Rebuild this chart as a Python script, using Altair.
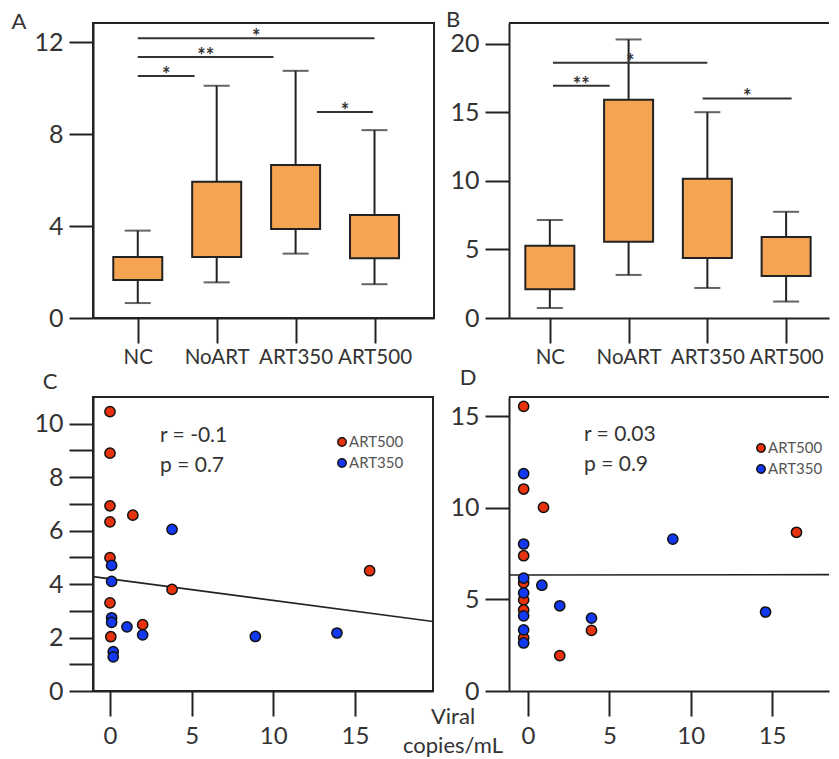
import altair as alt
import pandas as pd

FONT = "Lato"
INK = "#222222"
ORANGE = "#F5A552"
RED = "#E8320E"
BLUE = "#1238F0"

groups = ["NC", "NoART", "ART350", "ART500"]

# Panel A box statistics
a_low = [0.65, 1.55, 2.8, 1.47]
a_q1 = [1.65, 2.65, 3.87, 2.6]
a_q3 = [2.65, 5.93, 6.65, 4.48]
a_high = [3.8, 10.1, 10.75, 8.17]
# Panel B box statistics
b_low = [0.73, 3.14, 2.19, 1.2]
b_q1 = [2.1, 5.56, 4.38, 3.07]
b_q3 = [5.26, 15.9, 10.14, 5.9]
b_high = [7.15, 20.3, 15.0, 7.74]

# significance brackets (group-index start / end, height, label)
a_sig_start = [0.0, 0.0, 0.0, 2.27]
a_sig_end = [0.72, 1.72, 3.0, 2.98]
a_sig_y = [10.52, 11.35, 12.17, 8.96]
a_sig_label = ["*", "**", "*", "*"]

b_sig_start = [0.04, 0.04, 1.94]
b_sig_end = [0.76, 2.0, 3.07]
b_sig_y = [16.93, 18.6, 16.0]
b_sig_label = ["**", "*", "*"]

series = ["ART500", "ART350"]
series_colors = [RED, BLUE]

# Panel C scatter
c_red_x = [0.0, 0.0, 0.0, 0.0, 1.4, 0.0, 3.8, 15.9, 0.0, 2.0, 0.05]
c_red_y = [10.45, 8.9, 6.93, 6.33, 6.58, 4.99, 3.8, 4.5, 3.3, 2.48, 2.03]
c_blue_x = [0.1, 0.1, 0.1, 0.1, 1.04, 2.0, 3.8, 8.9, 13.9, 0.2, 0.2]
c_blue_y = [4.7, 4.1, 2.74, 2.57, 2.4, 2.1, 6.05, 2.04, 2.17, 1.47, 1.28]
c_line_x = [-1.04, 19.8]
c_line_y = [4.28, 2.6]
c_r = "r = -0.1"
c_p = "p = 0.7"

# Panel D scatter
d_red_x = [-0.27, -0.27, 0.95, -0.27, -0.27, -0.27, -0.27, -0.27, 1.95, 3.9, 16.5]
d_red_y = [15.53, 11.02, 10.02, 7.38, 5.9, 4.97, 4.42, 2.9, 1.93, 3.31, 8.66]
d_blue_x = [-0.27, -0.27, -0.27, -0.27, -0.27, -0.27, -0.27, 0.85, 1.95, 3.9, 8.9, 14.6]
d_blue_y = [11.86, 8.02, 6.16, 5.35, 4.1, 3.33, 2.62, 5.77, 4.65, 3.98, 8.29, 4.31]
d_line_x = [-1.2, 19.0]
d_line_y = [6.33, 6.35]
d_r = "r = 0.03"
d_p = "p = 0.9"

x_title = "Viral\ncopies/mL"


def yaxis(values, label_expr=None):
    kw = dict(values=values, title=None, grid=False, tickSize=24, tickWidth=2,
              tickColor=INK, domainColor=INK, domainWidth=2, labelFontSize=25,
              labelFont=FONT, labelColor="#333333", labelPadding=6,
              labelOverlap=False, labelBound=False, labelFlush=False)
    if label_expr:
        kw["labelExpr"] = label_expr
    return alt.Axis(**kw)


def xaxis(values, label_expr=None, size=22, pad=4):
    kw = dict(values=values, title=None, grid=False, tickSize=25, tickWidth=2,
              tickColor=INK, domainColor=INK, domainWidth=2, labelFontSize=size,
              labelFont=FONT, labelColor="#333333", labelPadding=pad, labelFlush=False,
              labelOverlap=False, labelBound=False)
    if label_expr:
        kw["labelExpr"] = label_expr
    return alt.Axis(**kw)


def letter_layer(letter, dx, dy):
    return alt.Chart(pd.DataFrame({"t": [letter]})).mark_text(
        font=FONT, fontSize=22, color="#333333", align="center", baseline="middle"
    ).encode(x=alt.value(dx), y=alt.value(dy), text="t:N")


def box_panel(low, q1, q3, high, sx, ex, sy, lab, ydom, yvals, xdom, width, height,
              letter, ldx, ldy, right_frame):
    cat_expr = "[" + ",".join("'%s'" % g for g in groups) + "][datum.value]"
    xs = alt.Scale(domain=xdom, nice=False, zero=False)
    ys = alt.Scale(domain=ydom, nice=False, zero=False)
    xa = xaxis(list(range(len(groups))), cat_expr, size=20.5, pad=4)
    ya = yaxis(yvals)

    def X(f):
        return alt.X(f, type="quantitative", scale=xs, axis=xa)

    def Y(f):
        return alt.Y(f, type="quantitative", scale=ys, axis=ya)

    df = pd.DataFrame({"g": list(range(len(groups))), "name": groups,
                       "low": low, "q1": q1, "q3": q3, "high": high})
    base = alt.Chart(df)
    wl = base.mark_rule(color=INK, strokeWidth=2).encode(x=X("g"), y=Y("low"), y2="q1")
    wh = base.mark_rule(color=INK, strokeWidth=2).encode(x=X("g"), y=Y("q3"), y2="high")
    cl = base.mark_tick(orient="horizontal", size=26, thickness=2, color=INK).encode(x=X("g"), y=Y("low"))
    ch = base.mark_tick(orient="horizontal", size=26, thickness=2, color=INK).encode(x=X("g"), y=Y("high"))
    box = base.mark_bar(size=49, fill=ORANGE, stroke=INK, strokeWidth=2, opacity=1).encode(
        x=X("g"), y=Y("q1"), y2="q3")

    sdf = pd.DataFrame({"s": sx, "e": ex, "y": sy, "lab": lab})
    sb = alt.Chart(sdf)
    rules = sb.mark_rule(color="#333333", strokeWidth=2).encode(x=X("s"), x2="e", y=Y("y"))
    stars = sb.transform_calculate(mid="(datum.s + datum.e) / 2").mark_text(
        font=FONT, fontSize=20, fontWeight="bold", color="#333333", align="center",
        baseline="alphabetic", dy=6
    ).encode(x=X("mid"), y=Y("y"), text="lab:N")

    layers = [wl, wh, cl, ch, box, rules, stars, letter_layer(letter, ldx, ldy)]
    if not right_frame:
        top = alt.Chart(pd.DataFrame({"t": [0]})).mark_rule(color=INK, strokeWidth=2).encode(
            x=alt.value(0), x2=alt.value(width), y=alt.value(0))
        layers.append(top)
    view = alt.ViewBackground(stroke=INK if right_frame else "transparent", strokeWidth=2)
    return alt.layer(*layers).properties(width=width, height=height, view=view)


def scatter_panel(rx, ry, bx, by, lx, ly, ydom, yvals, ylab_expr, xdom, width, height,
                  rtxt, ptxt, letter, ldx, ldy, right_frame, rp_pos, leg_pos, extra_title):
    xs = alt.Scale(domain=xdom, nice=False, zero=False)
    ys = alt.Scale(domain=ydom, nice=False, zero=False)
    xa = xaxis([0, 5, 10, 15], size=24, pad=8)
    ya = yaxis(yvals, ylab_expr)

    def X(f):
        return alt.X(f, type="quantitative", scale=xs, axis=xa)

    def Y(f):
        return alt.Y(f, type="quantitative", scale=ys, axis=ya)

    pts = pd.DataFrame({
        "x": rx + bx, "y": ry + by,
        "series": [series[0]] * len(rx) + [series[1]] * len(bx)})
    dots = alt.Chart(pts).mark_circle(size=105, stroke="#111111", strokeWidth=1.5, opacity=1).encode(
        x=X("x"), y=Y("y"),
        color=alt.Color("series:N", scale=alt.Scale(domain=series, range=series_colors), legend=None))
    line = alt.Chart(pd.DataFrame({"x": lx, "y": ly})).mark_line(
        color=INK, strokeWidth=1.6, clip=True).encode(x=X("x"), y=Y("y"))

    layers = [line, dots]
    # r / p annotation
    for i, t in enumerate([rtxt, ptxt]):
        layers.append(alt.Chart(pd.DataFrame({"t": [t]})).mark_text(
            font=FONT, fontSize=21, color="#333333", align="left", baseline="middle"
        ).encode(x=alt.value(rp_pos[0]), y=alt.value(rp_pos[1] + 30 * i), text="t:N"))
    # manual legend
    for i, (name, col) in enumerate(zip(series, series_colors)):
        d = pd.DataFrame({"t": [name]})
        layers.append(alt.Chart(d).mark_point(
            shape="circle", filled=True, size=70, fill=col, stroke="#111111", strokeWidth=1.5, opacity=1
        ).encode(x=alt.value(leg_pos[0]), y=alt.value(leg_pos[1] + 21 * i)))
        layers.append(alt.Chart(d).mark_text(
            font=FONT, fontSize=15, color="#555555", align="left", baseline="middle"
        ).encode(x=alt.value(leg_pos[0] + 7), y=alt.value(leg_pos[1] + 21 * i), text="t:N"))
    layers.append(letter_layer(letter, ldx, ldy))
    if extra_title:
        layers.append(alt.Chart(pd.DataFrame({"t": [extra_title]})).mark_text(
            font=FONT, fontSize=22, color="#333333", align="center", baseline="middle",
            lineBreak="\n", lineHeight=29
        ).encode(x=alt.value(width + 20), y=alt.value(height + 26), text="t:N"))
    if not right_frame:
        top = alt.Chart(pd.DataFrame({"t": [0]})).mark_rule(color=INK, strokeWidth=2).encode(
            x=alt.value(0), x2=alt.value(width), y=alt.value(0))
        layers.append(top)
    view = alt.ViewBackground(stroke=INK if right_frame else "transparent", strokeWidth=2)
    return alt.layer(*layers).properties(width=width, height=height, view=view)


pA = box_panel(a_low, a_q1, a_q3, a_high, a_sig_start, a_sig_end, a_sig_y, a_sig_label,
               [0, 12.83], [0, 4, 8, 12], [-0.504, -0.504 + 341 / 81.3], 341, 295,
               "A", -74, -1, True)
pB = box_panel(b_low, b_q1, b_q3, b_high, b_sig_start, b_sig_end, b_sig_y, b_sig_label,
               [0, 21.5], [0, 5, 10, 15, 20], [-0.455, -0.455 + 320 / 81.3], 320, 295,
               "B", -56, -3, False)
pC = scatter_panel(c_red_x, c_red_y, c_blue_x, c_blue_y, c_line_x, c_line_y,
                   [0, 11.0], list(range(0, 11)), "datum.value % 2 == 0 ? datum.label : ''",
                   [-1.04, -1.04 + 340 / 16.33], 340, 294, c_r, c_p, "C", -43, -15, True,
                   (67, 39), (249, 45), x_title)
pD = scatter_panel(d_red_x, d_red_y, d_blue_x, d_blue_y, d_line_x, d_line_y,
                   [0, 16.04], [0, 5, 10, 15], None,
                   [-1.17, -1.17 + 320 / 16.27], 320, 294, d_r, d_p, "D", -41, -19, False,
                   (75, 38), (252, 51), None)

chart = alt.concat(pA, pB, pC, pD, columns=2,
                   spacing=alt.RowColnumber(row=79, column=75), bounds="flush").properties(
    padding={"left": 2, "top": 0, "right": 0, "bottom": 0}
).configure(background="white")

chart.save("out.html", embed_options={"renderer": "svg", "actions": False})
